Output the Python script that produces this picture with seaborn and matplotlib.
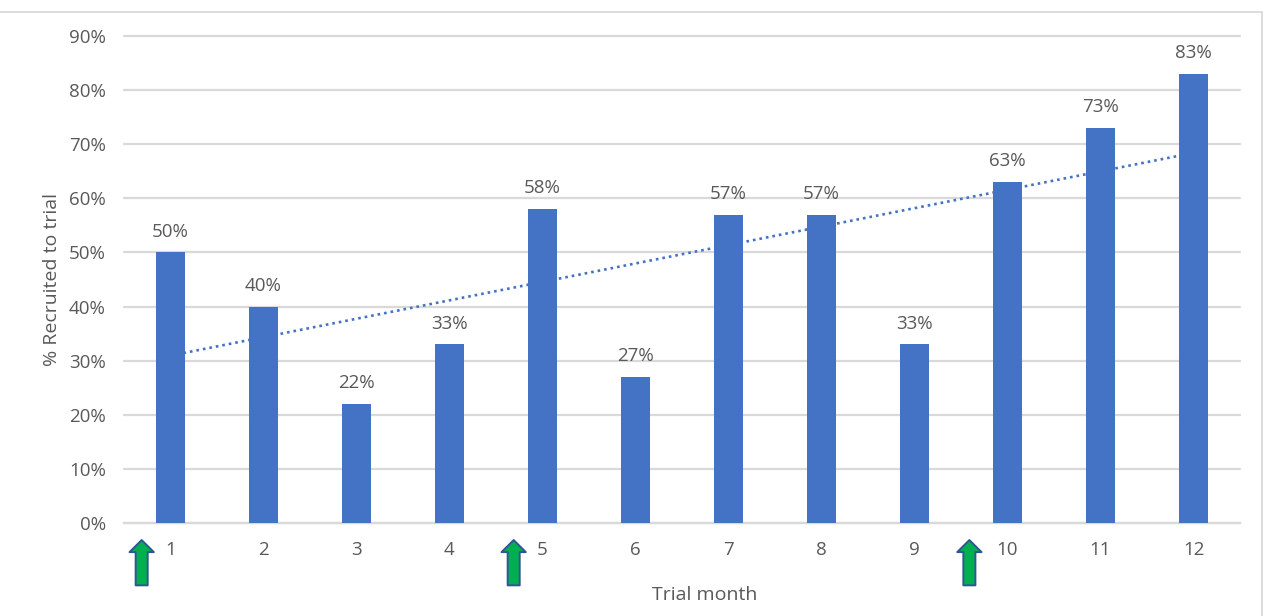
import matplotlib
matplotlib.use("Agg")
import matplotlib.pyplot as plt
from matplotlib.patches import Rectangle
from matplotlib.ticker import FuncFormatter, MultipleLocator
import numpy as np
import pandas as pd
import seaborn as sns

months = list(range(1, 13))
recruited = [50, 40, 22, 33, 58, 27, 57, 57, 33, 63, 73, 83]
# Arrow positions on the categorical axis, where month 1 sits at 0
phase_starts = [-0.31, 3.69, 8.59]

W, H = 1265, 616
BAR = "#4472C4"
GRID = "#D9D9D9"
TEXT = "#595959"

sns.set_theme(style="white")
plt.rcParams["font.family"] = ["Open Sans", "DejaVu Sans"]

fig = plt.figure(figsize=(W / 100, H / 100), dpi=100, facecolor="white")
ax = fig.add_axes([124 / W, 1 - 523 / H, (1240 - 124) / W, (523 - 36) / H])

df = pd.DataFrame({"month": months, "recruited": recruited})
sns.barplot(data=df, x="month", y="recruited", color=BAR, saturation=1,
            width=0.31, linewidth=0, ax=ax, zorder=3)
ax.set_xlim(-0.5, 11.5)
ax.set_ylim(0, 90)

# Linear trend across the twelve months, on the categorical positions
trend = pd.DataFrame({"pos": np.arange(len(months)), "recruited": recruited})
sns.regplot(data=trend, x="pos", y="recruited", scatter=False, ci=None, ax=ax,
            truncate=True,
            line_kws={"color": BAR, "lw": 1.9, "ls": (0, (1, 1.5)), "zorder": 4})

for i, v in enumerate(recruited):
    ax.annotate(f"{v}%", (i, v), xytext=(0, 15), textcoords="offset points",
                ha="center", va="center", fontsize=13.5, color=TEXT)

ax.yaxis.set_major_locator(MultipleLocator(10))
ax.yaxis.set_major_formatter(FuncFormatter(lambda v, _: f"{v:.0f}%"))
ax.grid(axis="y", color=GRID, lw=1.6, zorder=0)
ax.set_axisbelow(True)
for gridline in ax.get_ygridlines():
    gridline.set_clip_on(False)
for name, spine in ax.spines.items():
    spine.set_visible(name == "bottom")
ax.spines["bottom"].set_color(GRID)
ax.spines["bottom"].set_linewidth(1.6)
ax.tick_params(axis="both", length=0, labelsize=13.5, labelcolor=TEXT)
ax.tick_params(axis="x", pad=13)
ax.tick_params(axis="y", pad=13)
ax.set_xlabel("")
ax.set_ylabel("")
ax.text(0.5205, -0.1478, "Trial month", transform=ax.transAxes, ha="center",
        va="center", fontsize=14, color=TEXT)
ax.text(-0.0648, 0.5, "% Recruited to trial", transform=ax.transAxes, ha="center",
        va="center", rotation=90, fontsize=14, color=TEXT)

# Upward arrows marking where each new recruitment phase starts
blend = ax.get_xaxis_transform()
for pos in phase_starts:
    ax.annotate("", xy=(pos, -0.035), xytext=(pos, -0.128), xycoords=blend,
                textcoords=blend, annotation_clip=False,
                arrowprops=dict(
                    arrowstyle="simple,head_length=0.62,head_width=1.25,tail_width=0.62",
                    mutation_scale=14, shrinkA=0, shrinkB=0,
                    fc="#00B050", ec="#2F5597", lw=1.4))

# Light frame around the chart area
fig.add_artist(Rectangle((-5 / W, -20 / H), 1267 / W, (616 - 12 + 20) / H,
                         transform=fig.transFigure, fill=False,
                         ec="#D9D9D9", lw=1.3))

fig.savefig("out.png", dpi=100, facecolor="white")
